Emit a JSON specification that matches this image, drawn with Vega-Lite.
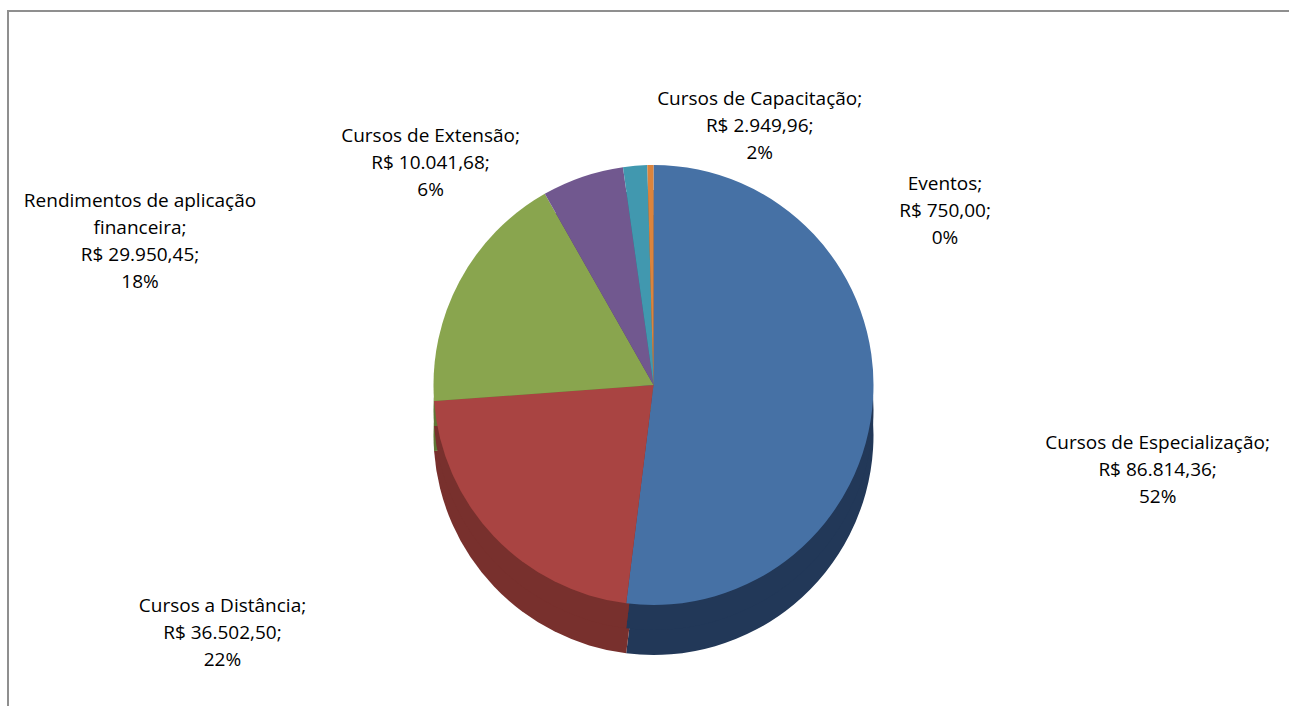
{
  "$schema": "https://vega.github.io/schema/vega-lite/v6.json",
  "width": 1291,
  "height": 748,
  "autosize": "none",
  "padding": {"left": 8, "top": 11, "right": -10, "bottom": -53},
  "background": "white",
  "view": {"stroke": "#8f8f8f", "strokeWidth": 2},
  "config": {"view": {"stroke": "#8f8f8f", "strokeWidth": 2}, "text": {"font": "Open Sans"}},
  "data": {
    "values": [
      {"ordem": 1, "categoria": "Cursos de Especialização", "valor": 86814.36, "rotulo": "Cursos de Especialização;\nR$ 86.814,36;\n52%"},
      {"ordem": 2, "categoria": "Cursos a Distância", "valor": 36502.50, "rotulo": "Cursos a Distância;\nR$ 36.502,50;\n22%"},
      {"ordem": 3, "categoria": "Rendimentos de aplicação financeira", "valor": 29950.45, "rotulo": "Rendimentos de aplicação\nfinanceira;\nR$ 29.950,45;\n18%"},
      {"ordem": 4, "categoria": "Cursos de Extensão", "valor": 10041.68, "rotulo": "Cursos de Extensão;\nR$ 10.041,68;\n6%"},
      {"ordem": 5, "categoria": "Cursos de Capacitação", "valor": 2949.96, "rotulo": "Cursos de Capacitação;\nR$ 2.949,96;\n2%"},
      {"ordem": 6, "categoria": "Eventos", "valor": 750.00, "rotulo": "Eventos;\nR$ 750,00;\n0%"}
    ]
  },
  "encoding": {
    "theta": {"field": "valor", "type": "quantitative", "stack": true},
    "order": {"field": "ordem", "type": "quantitative"}
  },
  "layer": [
    {
      "mark": {"type": "arc", "outerRadius": 220, "yOffset": 50},
      "encoding": {
        "fill": {"field": "categoria", "type": "nominal", "legend": null,
          "scale": {"domain": ["Cursos de Especialização", "Cursos a Distância", "Rendimentos de aplicação financeira", "Cursos de Extensão", "Cursos de Capacitação", "Eventos"],
                    "range": ["#223858", "#78302d", "#5f7634", "#4e3d64", "#2c6a7a", "#99592a"]}}
      }
    },
    {
      "mark": {"type": "arc", "outerRadius": 220, "yOffset": 25},
      "encoding": {
        "fill": {"field": "categoria", "type": "nominal", "legend": null}
      }
    },
    {
      "mark": {"type": "arc", "outerRadius": 220},
      "encoding": {
        "color": {"field": "categoria", "type": "nominal", "legend": null,
          "scale": {"domain": ["Cursos de Especialização", "Cursos a Distância", "Rendimentos de aplicação financeira", "Cursos de Extensão", "Cursos de Capacitação", "Eventos"],
                    "range": ["#4671a5", "#a94442", "#89a54e", "#71588f", "#4198af", "#db843d"]}}
      }
    },
    {
      "mark": {"type": "text", "radius": 455, "dx": 50, "dy": 30, "fontSize": 19, "lineHeight": 27, "lineBreak": "\n", "align": "center", "baseline": "middle", "color": "#000000"},
      "encoding": {"text": {"condition": {"test": "datum.ordem !== 1", "value": ""}, "field": "rotulo"}}
    },
    {
      "mark": {"type": "text", "radius": 360, "dx": -170, "dy": -27, "fontSize": 19, "lineHeight": 27, "lineBreak": "\n", "align": "center", "baseline": "middle", "color": "#000000"},
      "encoding": {"text": {"condition": {"test": "datum.ordem !== 2", "value": ""}, "field": "rotulo"}}
    },
    {
      "mark": {"type": "text", "radius": 420, "dx": -143, "dy": 14, "fontSize": 19, "lineHeight": 27, "lineBreak": "\n", "align": "center", "baseline": "middle", "color": "#000000"},
      "encoding": {"text": {"condition": {"test": "datum.ordem !== 3", "value": ""}, "field": "rotulo"}}
    },
    {
      "mark": {"type": "text", "radius": 245, "dx": -144, "dy": -17, "fontSize": 19, "lineHeight": 27, "lineBreak": "\n", "align": "center", "baseline": "middle", "color": "#000000"},
      "encoding": {"text": {"condition": {"test": "datum.ordem !== 4", "value": ""}, "field": "rotulo"}}
    },
    {
      "mark": {"type": "text", "radius": 261, "dx": 128, "dy": -26, "fontSize": 19, "lineHeight": 27, "lineBreak": "\n", "align": "center", "baseline": "middle", "color": "#000000"},
      "encoding": {"text": {"condition": {"test": "datum.ordem !== 5", "value": ""}, "field": "rotulo"}}
    },
    {
      "mark": {"type": "text", "radius": 175, "dx": 294, "dy": -26, "fontSize": 19, "lineHeight": 27, "lineBreak": "\n", "align": "center", "baseline": "middle", "color": "#000000"},
      "encoding": {"text": {"condition": {"test": "datum.ordem !== 6", "value": ""}, "field": "rotulo"}}
    }
  ]
}
